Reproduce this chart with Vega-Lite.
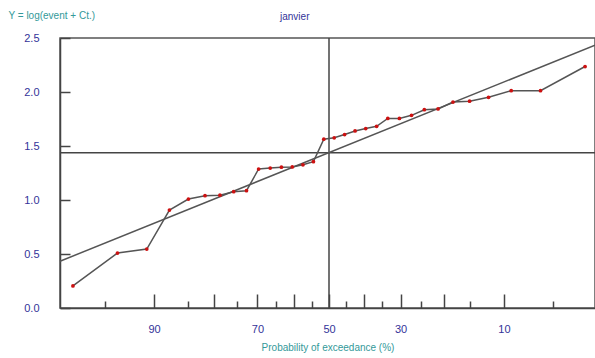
{
  "$schema": "https://vega.github.io/schema/vega-lite/v6.json",
  "width": 535,
  "height": 270,
  "autosize": {"type": "none"},
  "padding": {"left": 60, "top": 38, "right": 0, "bottom": 50},
  "background": "white",
  "config": {
    "view": {"stroke": "#555555", "strokeWidth": 1.5},
    "font": "Liberation Sans"
  },
  "title": {
    "text": "janvier",
    "frame": "group",
    "anchor": "start",
    "dx": 220,
    "offset": -22,
    "baseline": "bottom",
    "fontSize": 10,
    "fontWeight": "normal",
    "color": "#333399",
    "font": "Liberation Sans"
  },
  "datasets": {
    "obs": [
      {"rank": 1, "exceedance": 96.97, "z": -1.8763, "y": 0.204},
      {"rank": 2, "exceedance": 93.94, "z": -1.5497, "y": 0.509},
      {"rank": 3, "exceedance": 90.91, "z": -1.3352, "y": 0.546},
      {"rank": 4, "exceedance": 87.88, "z": -1.1690, "y": 0.907},
      {"rank": 5, "exceedance": 84.85, "z": -1.0300, "y": 1.009},
      {"rank": 6, "exceedance": 81.82, "z": -0.9085, "y": 1.040},
      {"rank": 7, "exceedance": 78.79, "z": -0.7991, "y": 1.045},
      {"rank": 8, "exceedance": 75.76, "z": -0.6985, "y": 1.077},
      {"rank": 9, "exceedance": 72.73, "z": -0.6046, "y": 1.086},
      {"rank": 10, "exceedance": 69.70, "z": -0.5157, "y": 1.287},
      {"rank": 11, "exceedance": 66.67, "z": -0.4307, "y": 1.296},
      {"rank": 12, "exceedance": 63.64, "z": -0.3488, "y": 1.304},
      {"rank": 13, "exceedance": 60.61, "z": -0.2691, "y": 1.306},
      {"rank": 14, "exceedance": 57.58, "z": -0.1910, "y": 1.326},
      {"rank": 15, "exceedance": 54.55, "z": -0.1142, "y": 1.355},
      {"rank": 16, "exceedance": 51.52, "z": -0.0380, "y": 1.563},
      {"rank": 17, "exceedance": 48.48, "z": 0.0380, "y": 1.576},
      {"rank": 18, "exceedance": 45.45, "z": 0.1142, "y": 1.606},
      {"rank": 19, "exceedance": 42.42, "z": 0.1910, "y": 1.639},
      {"rank": 20, "exceedance": 39.39, "z": 0.2691, "y": 1.662},
      {"rank": 21, "exceedance": 36.36, "z": 0.3488, "y": 1.682},
      {"rank": 22, "exceedance": 33.33, "z": 0.4307, "y": 1.755},
      {"rank": 23, "exceedance": 30.30, "z": 0.5157, "y": 1.755},
      {"rank": 24, "exceedance": 27.27, "z": 0.6046, "y": 1.784},
      {"rank": 25, "exceedance": 24.24, "z": 0.6985, "y": 1.836},
      {"rank": 26, "exceedance": 21.21, "z": 0.7991, "y": 1.843},
      {"rank": 27, "exceedance": 18.18, "z": 0.9085, "y": 1.907},
      {"rank": 28, "exceedance": 15.15, "z": 1.0300, "y": 1.915},
      {"rank": 29, "exceedance": 12.12, "z": 1.1690, "y": 1.951},
      {"rank": 30, "exceedance": 9.09, "z": 1.3352, "y": 2.012},
      {"rank": 31, "exceedance": 6.06, "z": 1.5497, "y": 2.012},
      {"rank": 32, "exceedance": 3.03, "z": 1.8763, "y": 2.236}
    ],
    "fit": [
      {"z": -1.971, "y": 0.433},
      {"z": 1.949, "y": 2.433}
    ],
    "centre": [
      {"z": 0, "y": 1.4385}
    ]
  },
  "encoding": {
    "x": {
      "field": "z",
      "type": "quantitative",
      "scale": {"domain": [-1.971, 1.949], "nice": false, "zero": false},
      "axis": {
        "title": "Probability of exceedance (%)",
        "titleColor": "#339999",
        "titleFontSize": 10,
        "titleFontWeight": "normal",
        "titlePadding": 1,
        "values": [-1.6449, -1.2816, -1.0364, -0.8416, -0.6745, -0.5244, -0.3853, -0.2533, -0.1257, 0, 0.1257, 0.2533, 0.3853, 0.5244, 0.6745, 0.8416, 1.0364, 1.2816, 1.6449],
        "labelExpr": "round(100*(1-cumulativeNormal(datum.value))) % 20 == 10 ? '' + round(100*(1-cumulativeNormal(datum.value))) : ''",
        "labelColor": "#333399",
        "labelFontSize": 11,
        "labelPadding": 29,
        "labelFlush": false,
        "labelOverlap": false,
        "tickSize": {"condition": {"test": "round(100*cumulativeNormal(datum.value)) % 10 == 0", "value": -14}, "value": -7},
        "tickColor": "#444444",
        "tickWidth": 1.5,
        "domainColor": "#444444",
        "domainWidth": 1.5,
        "grid": false
      }
    },
    "y": {
      "field": "y",
      "type": "quantitative",
      "scale": {"domain": [0, 2.5], "nice": false},
      "axis": {
        "title": "Y = log(event + Ct.)",
        "titleColor": "#339999",
        "titleFontSize": 10,
        "titleFontWeight": "normal",
        "titleAngle": 0,
        "titleAlign": "left",
        "titleBaseline": "bottom",
        "titleX": -52,
        "titleY": -18,
        "values": [0, 0.5, 1, 1.5, 2, 2.5],
        "format": ".1f",
        "labelColor": "#333399",
        "labelFontSize": 11,
        "labelPadding": 31,
        "labelFlush": false,
        "tickSize": -10,
        "tickColor": "#444444",
        "tickWidth": 1.5,
        "domainColor": "#444444",
        "domainWidth": 1.5,
        "grid": false
      }
    }
  },
  "layer": [
    {
      "data": {"name": "centre"},
      "mark": {"type": "rule", "color": "#444444", "strokeWidth": 1.5},
      "encoding": {"x": {"field": "z", "type": "quantitative"}, "y": null}
    },
    {
      "data": {"name": "centre"},
      "mark": {"type": "rule", "color": "#444444", "strokeWidth": 1.5},
      "encoding": {"y": {"field": "y", "type": "quantitative"}, "x": null}
    },
    {
      "data": {"name": "fit"},
      "mark": {"type": "line", "color": "#555555", "strokeWidth": 1.5},
      "encoding": {}
    },
    {
      "data": {"name": "obs"},
      "mark": {"type": "line", "color": "#555555", "strokeWidth": 1.5},
      "encoding": {"order": {"field": "rank"}}
    },
    {
      "data": {"name": "obs"},
      "mark": {"type": "circle", "color": "#cc1111", "size": 14, "opacity": 1},
      "encoding": {}
    }
  ]
}
